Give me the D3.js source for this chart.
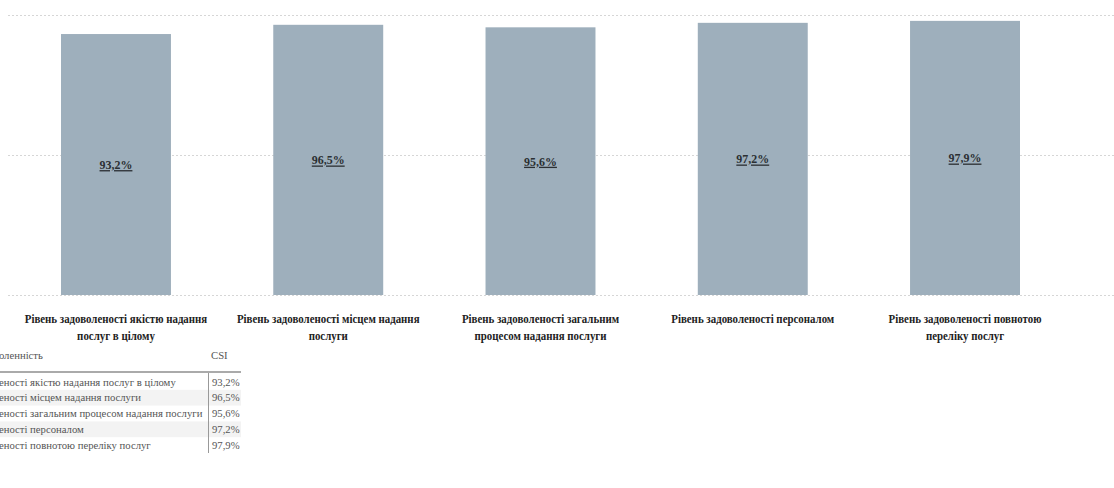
<!DOCTYPE html>
<html lang="uk">

<head>
  <meta charset="UTF-8">
  <title>CSI</title>
  <style>
    * {
      padding: 0;
      margin: 0;
    }

    html,
    body {
      width: 1114px;
      height: 488px;
      background: #fff;
      overflow: hidden;
    }

    svg {
      display: block;
    }

    svg text {
      font-family: 'Liberation Serif', 'Times New Roman', serif;
    }
  </style>
</head>

<body>
  <svg id="svg"></svg>
  <script src="https://cdnjs.cloudflare.com/ajax/libs/d3/7.8.5/d3.min.js"></script>
  <script>
    const categories = [
      'Рівень задоволеності якістю надання послуг в цілому',
      'Рівень задоволеності місцем надання послуги',
      'Рівень задоволеності загальним процесом надання послуги',
      'Рівень задоволеності персоналом',
      'Рівень задоволеності повнотою переліку послуг'
    ]
    const csiValues = [93.2, 96.5, 95.6, 97.2, 97.9]
    const gridTicks = [0, 50, 100]
    const tableHeader = ['Задоволенність', 'CSI']

    const dimension = {
      width: 1114,
      height: 488
    }

    // the source font is a narrow bold serif
    const squeeze = 0.87

    const ua = d3.formatLocale({ decimal: ',', thousands: ' ', grouping: [3], currency: ['', ' ₴'] })
    const pct = v => ua.format('.1f')(v) + '%'

    const svg = d3.select('#svg')
      .attr('width', dimension.width)
      .attr('height', dimension.height)

    const x = d3.scaleBand()
      .domain(categories)
      .range([61, 1020])
      .paddingInner(0.482)
      .paddingOuter(0)

    const y = d3.scaleLinear()
      .domain([0, 100])
      .range([295, 15])

    // dotted grid
    svg.append('g')
      .selectAll('line')
      .data(gridTicks)
      .join('line')
      .attr('x1', 8)
      .attr('x2', dimension.width)
      .attr('y1', d => y(d) + 0.5)
      .attr('y2', d => y(d) + 0.5)
      .attr('stroke', '#d6d6d6')
      .attr('stroke-dasharray', '2,2')

    const data = categories.map((c, i) => ({ cat: c, value: csiValues[i] }))

    svg.append('g')
      .selectAll('rect')
      .data(data)
      .join('rect')
      .attr('x', d => x(d.cat))
      .attr('y', d => y(d.value))
      .attr('width', x.bandwidth())
      .attr('height', d => y(0) - y(d.value))
      .attr('fill', '#9eafbc')

    svg.append('g')
      .selectAll('text')
      .data(data)
      .join('text')
      .attr('transform', d => `translate(${x(d.cat) + x.bandwidth() / 2},${(y(d.value) + y(0)) / 2}) scale(0.92,1)`)
      .attr('dy', '0.35em')
      .attr('text-anchor', 'middle')
      .attr('font-size', 13)
      .attr('font-weight', 'bold')
      .attr('text-decoration', 'underline')
      .attr('fill', '#2b2f33')
      .text(d => pct(d.value))

    // category labels, wrapped
    const catLabels = svg.append('g')
      .selectAll('text')
      .data(data)
      .join('text')
      .attr('transform', d => `translate(${x(d.cat) + x.bandwidth() / 2},323) scale(${squeeze},1)`)
      .attr('text-anchor', 'middle')
      .attr('font-size', 12.5)
      .attr('font-weight', 'bold')
      .attr('fill', '#222')

    catLabels.each(function (d) {
      const el = d3.select(this)
      const words = d.cat.split(' ')
      let line = []
      let tspan = el.append('tspan').attr('x', 0).attr('dy', 0)
      words.forEach(w => {
        line.push(w)
        tspan.text(line.join(' '))
        if (tspan.node().getComputedTextLength() * squeeze > 188 && line.length > 1) {
          line.pop()
          tspan.text(line.join(' '))
          line = [w]
          tspan = el.append('tspan').attr('x', 0).attr('dy', 17).text(w)
        }
      })
    })

    // table (cut at the left edge)
    const table = svg.append('g').attr('font-size', 10.7).attr('fill', '#555')
    const rowY = d3.scaleBand()
      .domain(d3.range(csiValues.length))
      .range([374, 453])

    const measure = s => {
      const t = table.append('text').text(s)
      const w = t.node().getComputedTextLength()
      t.remove()
      return w
    }

    table.selectAll('rect.stripe')
      .data(d3.range(csiValues.length).filter(i => i % 2 === 1))
      .join('rect')
      .attr('class', 'stripe')
      .attr('x', 0)
      .attr('y', i => rowY(i))
      .attr('width', 241)
      .attr('height', rowY.bandwidth())
      .attr('fill', '#f3f3f3')

    table.append('text')
      .attr('x', -measure('Задов') - 1)
      .attr('y', 355)
      .attr('dy', '0.35em')
      .text(tableHeader[0])

    table.append('text')
      .attr('x', 211)
      .attr('y', 355)
      .attr('dy', '0.35em')
      .text(tableHeader[1])

    table.append('line')
      .attr('x1', 0).attr('x2', 241)
      .attr('y1', 372).attr('y2', 372)
      .attr('stroke', '#aaa')
      .attr('stroke-width', 2)

    table.append('line')
      .attr('x1', 208.5).attr('x2', 208.5)
      .attr('y1', 373).attr('y2', 453)
      .attr('stroke', '#999')

    const cut = -measure('Рівень задовол') - 1
    table.selectAll('text.row')
      .data(data)
      .join('text')
      .attr('class', 'row')
      .attr('x', cut)
      .attr('y', (d, i) => rowY(i) + rowY.bandwidth() / 2)
      .attr('dy', '0.35em')
      .text(d => d.cat)

    table.selectAll('text.val')
      .data(data)
      .join('text')
      .attr('class', 'val')
      .attr('x', 212)
      .attr('y', (d, i) => rowY(i) + rowY.bandwidth() / 2)
      .attr('dy', '0.35em')
      .text(d => pct(d.value))
  </script>
</body>

</html>
